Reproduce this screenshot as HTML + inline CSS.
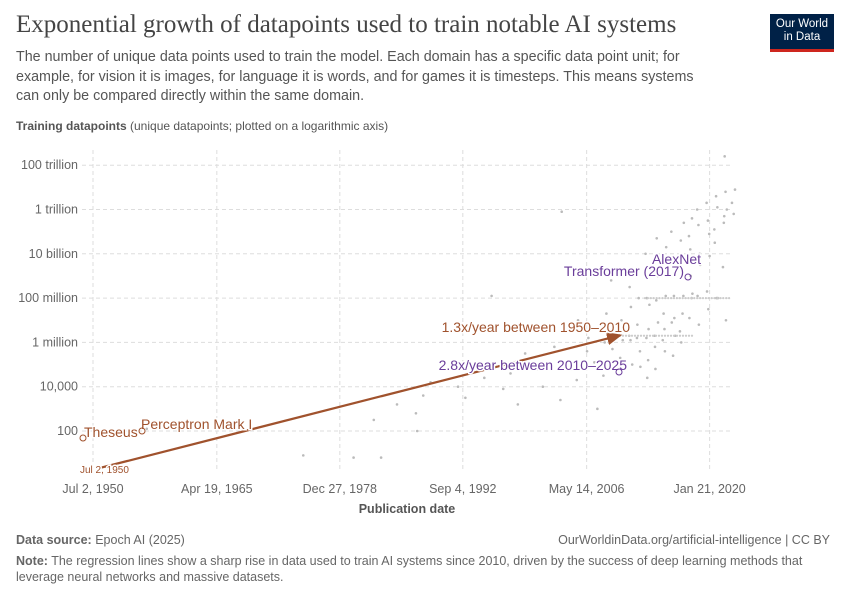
<!DOCTYPE html>
<html><head><meta charset="utf-8">
<style>
body{margin:0;background:#fff;font-family:"Liberation Sans",sans-serif;}
#wrap{position:relative;width:850px;height:600px;overflow:hidden;}
h1{position:absolute;left:16px;top:11px;margin:0;font-family:"Liberation Serif",serif;font-weight:400;font-size:25px;color:#444;}
#sub{position:absolute;left:16px;top:48px;width:700px;font-size:14.3px;line-height:19.5px;color:#555;}
#logo{position:absolute;left:770px;top:14px;width:64px;height:38px;background:#002147;color:#fff;font-size:11.5px;line-height:13px;text-align:center;padding-top:4px;box-sizing:border-box;border-bottom:3px solid #ce261e;}
.ft{position:absolute;font-size:12.5px;color:#666;}
</style></head><body>
<div id="wrap">
<h1>Exponential growth of datapoints used to train notable AI systems</h1>
<div id="sub">The number of unique data points used to train the model. Each domain has a specific data point unit; for example, for vision it is images, for language it is words, and for games it is timesteps. This means systems can only be compared directly within the same domain.</div>
<div id="logo">Our World<br>in Data</div>
<svg id="chart" width="850" height="600" style="position:absolute;left:0;top:0"></svg>
<div class="ft" style="left:16px;top:533px"><b>Data source:</b> Epoch AI (2025)</div>
<div class="ft" style="right:20px;top:533px">OurWorldinData.org/artificial-intelligence | CC BY</div>
<div class="ft" style="left:16px;top:553px;width:790px;line-height:16px"><b>Note:</b> The regression lines show a sharp rise in data used to train AI systems since 2010, driven by the success of deep learning methods that leverage neural networks and massive datasets.</div>
</div>
<script>
const yTickVals=[2,4,6,8,10,12,14];
const yTickLabels=["100","10,000","1 million","100 million","10 billion","1 trillion","100 trillion"];
const xTickVals=[1950.5,1964.9,1979.2,1993.5,2007.9,2022.2];
const xTickLabels=["Jul 2, 1950","Apr 19, 1965","Dec 27, 1978","Sep 4, 1992","May 14, 2006","Jan 21, 2020"];
const ptYears=[1957,1961,1975,1981,1983,1984,1986,1988,1988,1989,1990,1992,1993,1994,1995,1996,1997,1998,1999,2000,2001,2002,2003,2003,2004,2005,2005,2006,2006,2007,2007,2008,2008,2009,2009,2010,2010,2010,2011,2011,2011,2012,2012,2012,2012,2013,2013,2013,2013,2013,2014,2014,2014,2014,2014,2014,2015,2015,2015,2015,2015,2015,2015,2016,2016,2016,2016,2016,2016,2016,2017,2017,2017,2017,2017,2017,2017,2018,2018,2018,2018,2018,2018,2018,2019,2019,2019,2019,2019,2019,2019,2020,2020,2020,2020,2020,2020,2020,2021,2021,2021,2021,2021,2021,2022,2022,2022,2022,2022,2022,2023,2023,2023,2023,2023,2023,2024,2024,2024,2024,2024,2024,2024,2025,2025,2025];
const ptLogs=[2.1,2.2,0.9,0.8,2.5,0.8,3.2,2.0,2.8,3.6,4.2,4.8,4.0,3.5,5.0,4.4,8.1,3.9,4.6,3.2,5.5,4.8,6.6,4.0,5.8,11.9,3.4,4.8,6.5,7.0,4.3,6.2,5.6,5.1,3.0,6.0,4.5,7.3,6.3,5.7,8.8,6.1,7.0,5.3,9.2,6.1,6.3,5.0,7.6,8.5,6.2,5.6,8.0,6.8,4.9,9.3,6.2,7.7,5.2,8.0,10.0,6.6,4.4,6.3,9.0,7.9,5.8,6.9,10.7,4.8,6.1,8.1,6.6,9.3,10.3,5.6,7.3,6.3,8.1,9.6,11.0,7.1,5.4,6.9,8.1,9.9,10.6,11.4,7.3,6.0,6.5,8.0,10.2,10.8,11.6,9.0,7.1,8.2,10.0,11.3,12.0,9.5,6.8,8.1,10.9,11.5,12.3,9.9,7.5,8.3,11.1,12.1,12.6,10.5,8.0,8.0,11.4,12.0,12.8,11.7,9.4,7.0,14.4,12.3,12.9,11.8];
const trendYears=[1951.3,2011.8];
const trendLogs=[0.33,6.32];

const X=y=>93+(y-1950.5)*8.6;
const Y=l=>431-(l-2)*22.15;
const svg=document.getElementById('chart');
const NS='http://www.w3.org/2000/svg';
function mk(t,a,txt){const e=document.createElementNS(NS,t);for(const k in a)e.setAttribute(k,a[k]);if(txt!=null)e.textContent=txt;svg.appendChild(e);return e;}
const F='"Liberation Sans",sans-serif';
let e=mk('text',{x:16,y:130,'font-size':12,fill:'#555','font-family':F});
e.innerHTML='<tspan font-weight="bold">Training datapoints</tspan> (unique datapoints; plotted on a logarithmic axis)';

yTickVals.forEach((v,i)=>{
 const g=mk('line',{x1:82,x2:732,y1:Y(v),y2:Y(v),stroke:'#ddd','stroke-dasharray':'4 3'});
 
 const t=mk('text',{x:78,y:Y(v)+4,'text-anchor':'end','font-size':12.5,fill:'#666','font-family':F},yTickLabels[i]);
 
});
xTickVals.forEach((v,i)=>{
 const g=mk('line',{x1:X(v),x2:X(v),y1:150,y2:472,stroke:'#ddd','stroke-dasharray':'4 3'});
 
 const t=mk('text',{x:X(v),y:493,'text-anchor':'middle','font-size':12.5,fill:'#666','font-family':F},xTickLabels[i]);
 
});
e=mk('text',{x:407,y:513,'text-anchor':'middle','font-size':12.5,'font-weight':'bold',fill:'#555','font-family':F},'Publication date');

ptYears.forEach((yr,i)=>{
 const c=mk('circle',{cx:X(yr+((i*7)%10)/20-0.25),cy:Y(ptLogs[i]),r:1.3,fill:'#bbb'});
 
});
for(let k=0;k<30;k++){const c=mk('circle',{cx:645+k*2.9,cy:Y(8),r:1.1,fill:'#ccc'});}
for(let k=0;k<25;k++){const c=mk('circle',{cx:620+k*3,cy:Y(6.3),r:1.1,fill:'#ccc'});}
mk('defs',{}).innerHTML='<marker id="ar" markerWidth="8" markerHeight="8" refX="6" refY="3" orient="auto"><path d="M0,0 L7,3 L0,6 z" fill="#a0522d"/></marker>';
e=mk('line',{x1:X(trendYears[0]),y1:Y(trendLogs[0]),x2:X(trendYears[1]),y2:Y(trendLogs[1]),stroke:'#a0522d','stroke-width':2.2,'marker-end':'url(#ar)'});

function lab(x,y,t,c,s,nm,anchor){const l=mk('text',{x:x,y:y,'font-size':s,fill:c,'font-family':F,'text-anchor':anchor||'start',stroke:'#fff','stroke-width':3,'paint-order':'stroke'},t);}
const br='#a0522d',pu='#6a3d9a';
lab(630,332,'1.3x/year between 1950–2010',br,14,'trend-label-1950-2010','end');
lab(627,370,'2.8x/year between 2010–2025',pu,14,'trend-label-2010-2025','end');
lab(701,264,'AlexNet',pu,14,'alexnet-label','end');
lab(684,276,'Transformer (2017)',pu,14,'transformer-label','end');
lab(84,437,'Theseus',br,14,'theseus-label');
lab(141,429,'Perceptron Mark I',br,14,'perceptron-label');
lab(80,473,'Jul 2, 1950',br,10,'start-date-label');
[[83,438,br],[688,277,pu],[619,372,pu],[142,431,br]].forEach(p=>{const c=mk('circle',{cx:p[0],cy:p[1],r:3,fill:'none',stroke:p[2],'stroke-width':1});});
</script>
</body></html>
